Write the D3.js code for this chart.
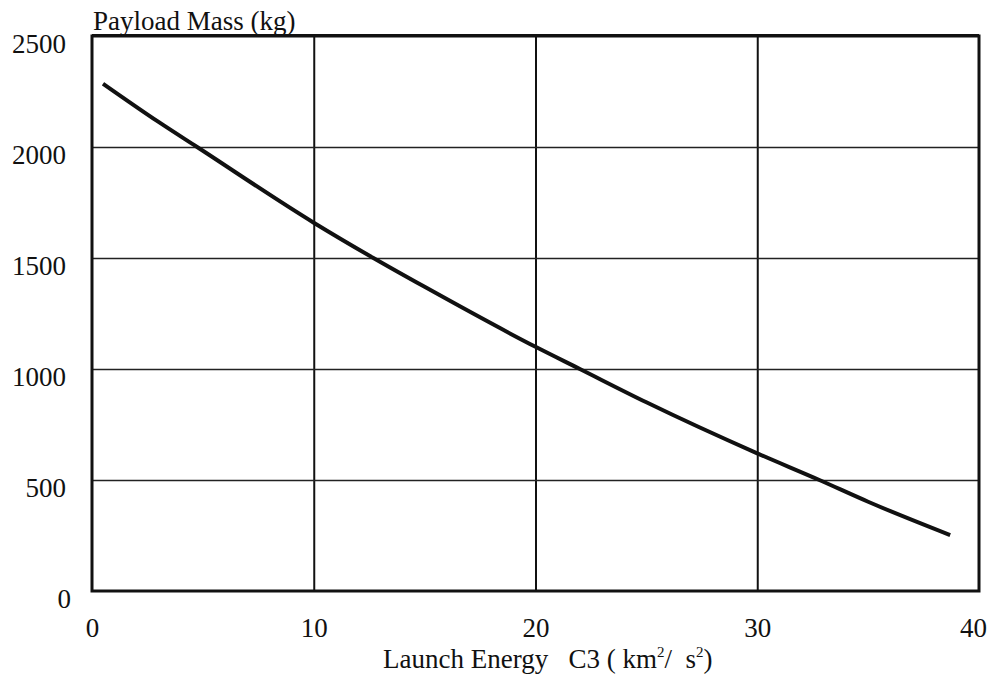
<!DOCTYPE html>
<html>
<head>
<meta charset="utf-8">
<script src="https://cdn.jsdelivr.net/npm/d3@7"></script>
<style>
  body { margin: 0; background: #fff; }
  text { font-family: "Liberation Serif", "Times New Roman", serif; fill: #111; }
</style>
</head>
<body>
<div id="main"></div>
<script>
// values
const c3 = [0.5, 3, 4.74, 10, 12.69, 15, 20, 22, 25, 30, 32.8, 35, 38.7];
const payload = [2285, 2113, 2000, 1659, 1500, 1370, 1100, 1000, 850, 620, 500, 402, 252];
const xTicks = [0, 10, 20, 30, 40];
const yTicks = [0, 500, 1000, 1500, 2000, 2500];

const ctx = {
    WIDTH: 996,
    HEIGHT: 691,
    left: 92,
    right: 979,
    top: 36,
    bottom: 591,
    fontSize: 27,
};

function createViz() {
    const svg = d3.select("#main").append("svg")
        .attr("width", ctx.WIDTH)
        .attr("height", ctx.HEIGHT);

    const x = d3.scaleLinear().domain([0, 40]).range([ctx.left, ctx.right]);
    const y = d3.scaleLinear().domain([0, 2500]).range([ctx.bottom, ctx.top]);

    const w = ctx.right - ctx.left;
    const h = ctx.bottom - ctx.top;

    // x axis + vertical grid
    const xAxis = svg.append("g")
        .attr("transform", `translate(0,${ctx.bottom})`)
        .call(d3.axisBottom(x).tickValues(xTicks).tickFormat(d3.format("d"))
            .tickSizeInner(-h).tickSizeOuter(0).tickPadding(27));
    xAxis.select(".domain").remove();
    xAxis.selectAll("line")
        .attr("stroke", "#111")
        .attr("stroke-width", 2)
        .filter(d => d === 0 || d === 40).remove();
    xAxis.selectAll("text").attr("font-size", ctx.fontSize)
        .attr("dx", d => d === 40 ? -6 : 0);

    // y axis + horizontal grid
    const yAxis = svg.append("g")
        .attr("transform", `translate(${ctx.left},0)`)
        .call(d3.axisLeft(y).tickValues(yTicks).tickFormat(d3.format("d"))
            .tickSizeInner(-w).tickSizeOuter(0).tickPadding(26));
    yAxis.select(".domain").remove();
    yAxis.selectAll("line")
        .attr("stroke", "#222")
        .attr("stroke-width", 1.5)
        .filter(d => d === 0 || d === 2500).remove();
    yAxis.selectAll("text").attr("font-size", ctx.fontSize).attr("dy", "0.62em")
        .attr("dx", d => d === 0 ? 5 : 0);

    // frame
    svg.append("rect")
        .attr("x", ctx.left)
        .attr("y", ctx.top)
        .attr("width", w)
        .attr("height", h)
        .attr("fill", "none")
        .attr("stroke", "#111")
        .attr("stroke-width", 3);
    svg.append("line")
        .attr("x1", ctx.left).attr("x2", ctx.right)
        .attr("y1", ctx.top - 0.5).attr("y2", ctx.top - 0.5)
        .attr("stroke", "#111")
        .attr("stroke-width", 3);

    // curve
    const line = d3.line()
        .x((d, i) => x(c3[i]))
        .y(d => y(d))
        .curve(d3.curveMonotoneX);

    svg.append("path")
        .datum(payload)
        .attr("d", line)
        .attr("fill", "none")
        .attr("stroke", "#111")
        .attr("stroke-width", 4);

    // titles
    svg.append("text")
        .attr("x", 93)
        .attr("y", 30)
        .attr("font-size", ctx.fontSize)
        .text("Payload Mass (kg)");

    const xt = svg.append("text")
        .attr("x", 383)
        .attr("y", 668)
        .attr("font-size", ctx.fontSize)
        .style("white-space", "pre");
    xt.append("tspan").text("Launch Energy   C3 ( km");
    xt.append("tspan").attr("font-size", 15).attr("dy", -11).text("2");
    xt.append("tspan").attr("dy", 11).text("/  s");
    xt.append("tspan").attr("font-size", 15).attr("dy", -11).text("2");
    xt.append("tspan").attr("dy", 11).text(")");
}

createViz();
</script>
</body>
</html>
